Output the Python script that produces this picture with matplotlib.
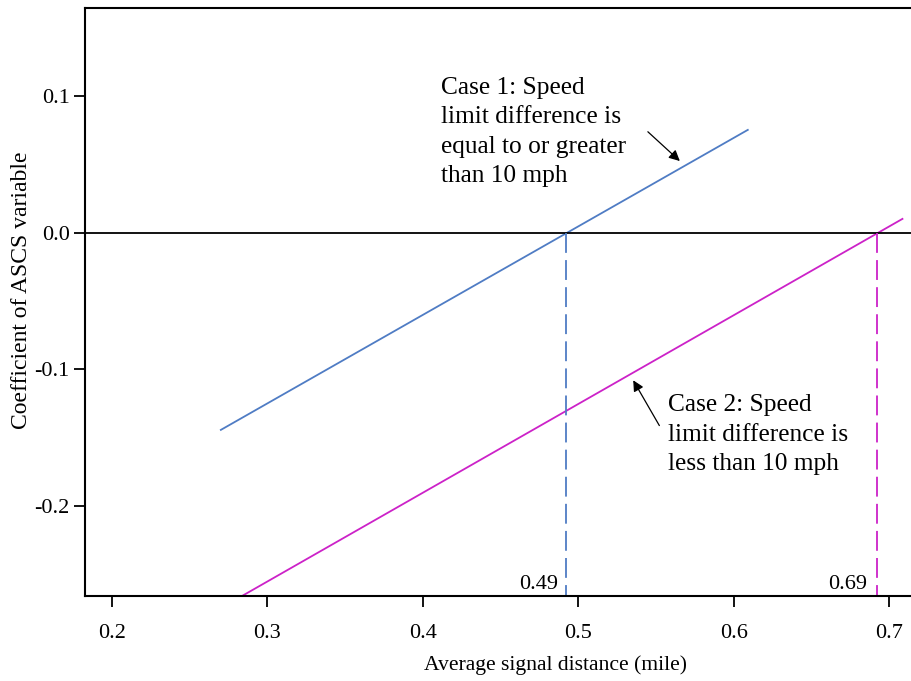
import matplotlib
matplotlib.use("Agg")
import matplotlib.pyplot as plt

plt.rcParams['font.family'] = ['Liberation Serif', 'DejaVu Serif']

# lines
case1_x = [0.270, 0.609]
case1_y = [-0.1443, 0.0755]
case2_x = [0.2836, 0.7085]
case2_y = [-0.266, 0.0103]
cross1 = 0.492
cross2 = 0.692
cross_labels = ['0.49', '0.69']

xticks = [0.2, 0.3, 0.4, 0.5, 0.6, 0.7]
yticks = [-0.2, -0.1, 0.0, 0.1]

blue = '#4f7cc4'
magenta = '#cc22c8'

fig = plt.figure(figsize=(9.11, 6.81), dpi=100)
ax = fig.add_axes([85 / 911, 85 / 681, 826 / 911, 588 / 681])
ax.set_xlim(0.1826, 0.714)
ax.set_ylim(-0.266, 0.1648)

ax.plot(case1_x, case1_y, color=blue, lw=1.3)
ax.plot(case2_x, case2_y, color=magenta, lw=1.3)
ax.axhline(0, color='black', lw=1.3)

ax.plot([cross1, cross1], [0, -0.266], color=blue, lw=1.3, dashes=(11, 4))
ax.plot([cross2, cross2], [0, -0.266], color=magenta, lw=1.3, dashes=(11, 4))
ax.text(cross1 - 0.0052, -0.2608, cross_labels[0], ha='right', va='baseline', fontsize=16)
ax.text(cross2 - 0.0065, -0.2608, cross_labels[1], ha='right', va='baseline', fontsize=16)

# va='baseline' pins the last line's baseline
ax.text(0.4116, 0.0374, 'Case 1: Speed\nlimit difference is\nequal to or greater\nthan 10 mph',
        ha='left', va='baseline', fontsize=18.3, linespacing=1.43)
ax.annotate('', xy=(0.5666, 0.0513), xytext=(0.5434, 0.0755),
            arrowprops=dict(arrowstyle='-|>', color='black', lw=0.9, mutation_scale=16))

ax.text(0.5576, -0.1736, 'Case 2: Speed\nlimit difference is\nless than 10 mph',
        ha='left', va='baseline', fontsize=18.3, linespacing=1.43)
ax.annotate('', xy=(0.5344, -0.1062), xytext=(0.553, -0.1429),
            arrowprops=dict(arrowstyle='-|>', color='black', lw=0.9, mutation_scale=16))

ax.set_xticks(xticks)
ax.set_xticklabels([f'{v:.1f}' for v in xticks])
ax.set_yticks(yticks)
ax.set_yticklabels([f'{v:.1f}' for v in yticks])
ax.tick_params(direction='out', length=8, width=1.3, labelsize=16)
ax.tick_params(axis='x', pad=12)
ax.tick_params(axis='y', pad=3)
for side in ['left', 'bottom', 'top']:
    ax.spines[side].set_linewidth(1.5)
ax.spines['right'].set_visible(False)

# the source picture is cropped on the right, so the x title sits right of centre
ax.set_xlabel('Average signal distance (mile)', fontsize=15.6, labelpad=9, x=0.570)
ax.set_ylabel('Coefficient of ASCS variable', fontsize=17, labelpad=2, y=0.52)

fig.savefig('out.png', dpi=100)
